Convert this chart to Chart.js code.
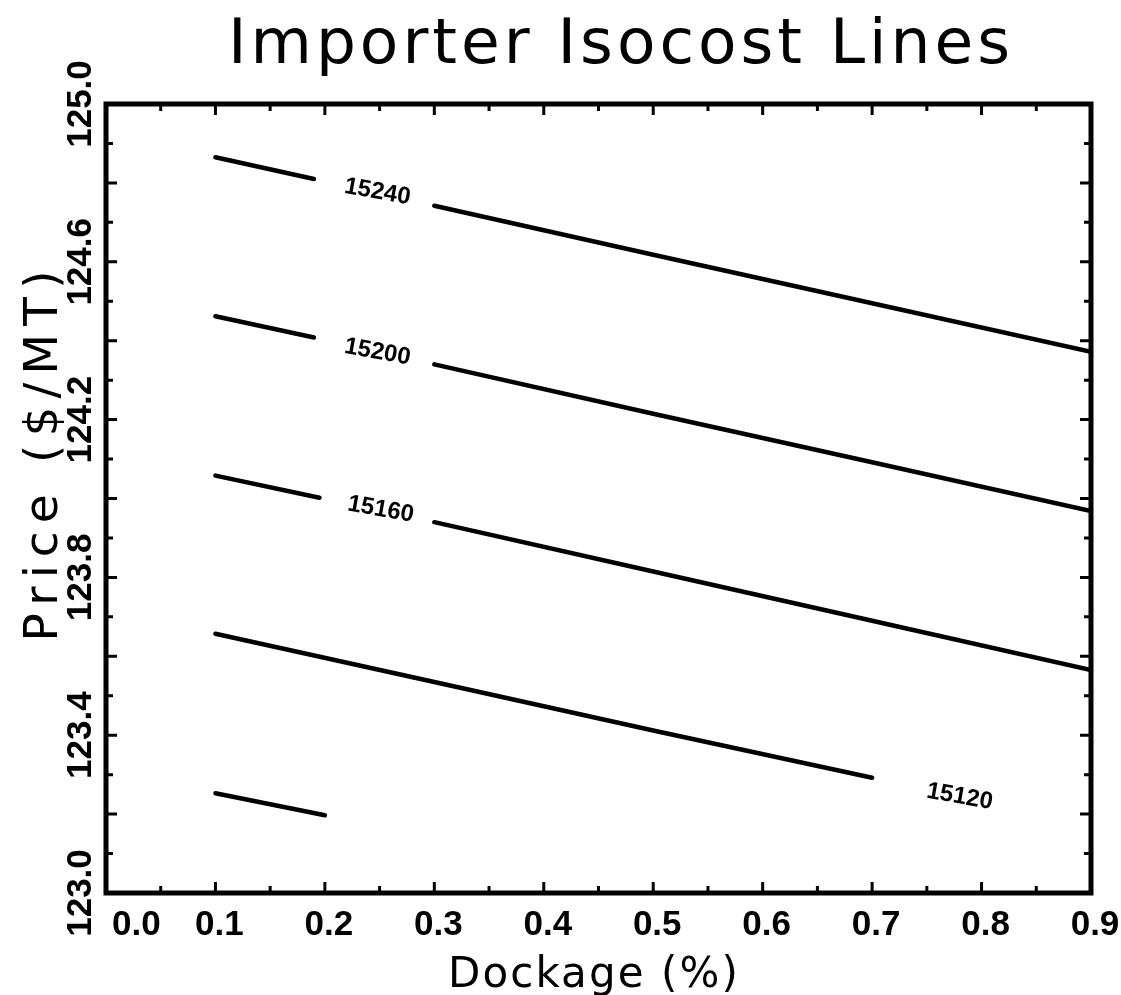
<!DOCTYPE html>
<html>
<head>
<meta charset="utf-8">
<title>Importer Isocost Lines</title>
<script src="https://cdn.jsdelivr.net/npm/chart.js@4.4.0/dist/chart.umd.min.js"></script>
<style>
    html, body { margin: 0; padding: 0; background: #ffffff; }
    canvas { display: block; }
</style>
</head>
<body>
<canvas id="isocostChart" width="1121" height="995"></canvas>
<script>
// ============================================================================
// IMPORTER ISOCOST LINES (contours of cost over dockage and price)
// ============================================================================

// Dockage (%) on x, price ($/MT) on y. null marks the gap left for a label.
const line15240X = [0.10, 0.19, 0.245, 0.30, 0.50, 0.70, 0.90];
const line15240Y = [124.865, 124.810, null, 124.742, 124.618, 124.495, 124.372];

const line15200X = [0.10, 0.19, 0.245, 0.30, 0.50, 0.70, 0.90];
const line15200Y = [124.462, 124.408, null, 124.340, 124.215, 124.092, 123.968];

const line15160X = [0.10, 0.195, 0.25, 0.30, 0.50, 0.70, 0.90];
const line15160Y = [124.058, 124.002, null, 123.940, 123.815, 123.690, 123.565];

const line15120X = [0.10, 0.30, 0.50, 0.70];
const line15120Y = [123.657, 123.535, 123.412, 123.292];

const line15080X = [0.10, 0.20];
const line15080Y = [123.253, 123.197];

// contour labels and where they sit
const contourLabels = ['15240', '15200', '15160', '15120'];
const contourLabelX = [0.248, 0.248, 0.251, 0.780];
const contourLabelY = [124.777, 124.371, 123.972, 123.244];

// axis ticks
const dockageTicks = [0.0, 0.1, 0.2, 0.3, 0.4, 0.5, 0.6, 0.7, 0.8, 0.9];
const dockageLabels = ['0.0', '0.1', '0.2', '0.3', '0.4', '0.5', '0.6', '0.7', '0.8', '0.9'];
const priceTicks = [123.0, 123.4, 123.8, 124.2, 124.6, 125.0];
const priceLabels = ['123.0', '123.4', '123.8', '124.2', '124.6', '125.0'];

const TITLE = 'Importer Isocost Lines';
const X_TITLE = 'Dockage (%)';
const Y_TITLE = 'Price ($/MT)';

function toPoints(xs, ys) {
    return xs.map((x, i) => ({ x: x, y: ys[i] }));
}

function contourDataset(xs, ys) {
    return {
        data: toPoints(xs, ys),
        showLine: true,
        borderColor: '#000000',
        borderWidth: 4.5,
        pointRadius: 0,
        spanGaps: false,
        borderCapStyle: 'round'
    };
}

// Draw text stretched with letter spacing so it covers a given width
function drawSpaced(ctx, text, cx, y, width) {
    ctx.letterSpacing = '0px';
    const natural = ctx.measureText(text).width;
    const extra = Math.max(0, (width - natural) / (text.length - 1));
    ctx.letterSpacing = extra + 'px';
    ctx.textAlign = 'left';
    ctx.fillText(text, cx - width / 2, y);
    ctx.letterSpacing = '0px';
}

// Frame, inward ticks, tick labels, titles and contour labels
const framePlugin = {
    id: 'framePlugin',
    afterDatasetsDraw(chart) {
        const ctx = chart.ctx;
        const area = chart.chartArea;
        const xs = chart.scales.x;
        const ys = chart.scales.y;

        ctx.save();
        ctx.strokeStyle = '#000000';
        ctx.fillStyle = '#000000';

        // frame
        ctx.lineWidth = 5;
        ctx.strokeRect(area.left, area.top, area.right - area.left, area.bottom - area.top);

        // x ticks every 0.05, longer at each 0.1
        ctx.lineWidth = 3;
        for (let i = 1; i < 18; i++) {
            const px = xs.getPixelForValue(i * 0.05);
            const len = i % 2 === 0 ? 11 : 7;
            ctx.beginPath();
            ctx.moveTo(px, area.bottom);
            ctx.lineTo(px, area.bottom - len);
            ctx.moveTo(px, area.top);
            ctx.lineTo(px, area.top + len);
            ctx.stroke();
        }
        // y ticks every 0.1, longer at each 0.2
        for (let i = 1; i < 20; i++) {
            const py = ys.getPixelForValue(123 + i * 0.1);
            const len = i % 2 === 0 ? 11 : 7;
            ctx.beginPath();
            ctx.moveTo(area.left, py);
            ctx.lineTo(area.left + len, py);
            ctx.moveTo(area.right, py);
            ctx.lineTo(area.right - len, py);
            ctx.stroke();
        }

        // x tick labels
        ctx.font = 'bold 35px "Liberation Sans"';
        ctx.textBaseline = 'alphabetic';
        dockageTicks.forEach((v, i) => {
            if (i === 0) {
                ctx.textAlign = 'left';
                ctx.fillText(dockageLabels[i], area.left + 6, 935);
            } else {
                ctx.textAlign = 'center';
                ctx.fillText(dockageLabels[i], xs.getPixelForValue(v) + 4, 935);
            }
        });

        // y tick labels, turned to read upwards
        priceTicks.forEach((v, i) => {
            ctx.save();
            ctx.translate(91, ys.getPixelForValue(v));
            ctx.rotate(-Math.PI / 2);
            ctx.textAlign = 'center';
            ctx.fillText(priceLabels[i], 0, 0);
            ctx.restore();
        });

        // contour labels
        ctx.font = 'bold 24px "Liberation Sans"';
        ctx.textAlign = 'center';
        ctx.textBaseline = 'middle';
        contourLabels.forEach((label, i) => {
            ctx.save();
            ctx.translate(xs.getPixelForValue(contourLabelX[i]), ys.getPixelForValue(contourLabelY[i]));
            ctx.rotate(10 * Math.PI / 180);
            ctx.fillText(label, 0, 0);
            ctx.restore();
        });

        // chart title and axis titles
        ctx.textBaseline = 'alphabetic';
        ctx.font = '63px "DejaVu Sans"';
        drawSpaced(ctx, TITLE, 619, 63, 782);

        ctx.font = '42px "DejaVu Sans"';
        drawSpaced(ctx, X_TITLE, 593, 987, 290);

        ctx.save();
        ctx.translate(57, 456);
        ctx.rotate(-Math.PI / 2);
        ctx.font = '47px "DejaVu Sans"';
        drawSpaced(ctx, Y_TITLE, 0, 0, 371);
        ctx.restore();

        ctx.restore();
    }
};

const chartData = {
    datasets: [
        contourDataset(line15240X, line15240Y),
        contourDataset(line15200X, line15200Y),
        contourDataset(line15160X, line15160Y),
        contourDataset(line15120X, line15120Y),
        contourDataset(line15080X, line15080Y)
    ]
};

const options = {
    responsive: false,
    animation: false,
    events: [],
    layout: {
        padding: { left: 106, right: 30, top: 104, bottom: 102 }
    },
    plugins: {
        legend: { display: false },
        title: { display: false },
        tooltip: { enabled: false }
    },
    scales: {
        x: { type: 'linear', min: 0, max: 0.9, display: false },
        y: { type: 'linear', min: 123, max: 125, display: false }
    }
};

const ctx = document.getElementById('isocostChart').getContext('2d');
new Chart(ctx, {
    type: 'scatter',
    data: chartData,
    options: options,
    plugins: [framePlugin]
});
</script>
</body>
</html>
